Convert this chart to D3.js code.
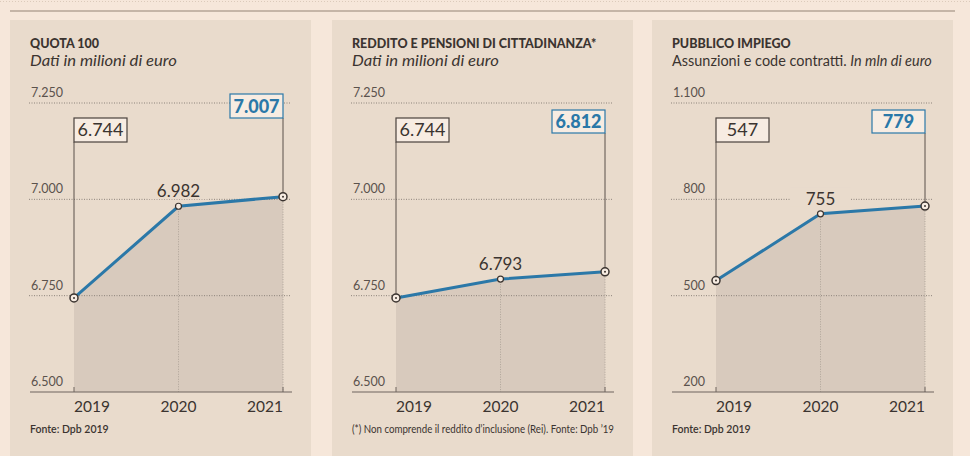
<!DOCTYPE html>
<html>
<head>
<meta charset="utf-8">
<script src="https://cdn.jsdelivr.net/npm/d3@7"></script>
<style>
  html, body { margin: 0; padding: 0; background: #f6e7da; }
  svg { display: block; font-family: Lato, "Open Sans", sans-serif; }
</style>
</head>
<body>
<svg id="chart"></svg>
<script>
// data
const years = ["2019", "2020", "2021"];
const quotaValues = [6744, 6982, 7007];
const redditoValues = [6744, 6793, 6812];
const impiegoValues = [547, 755, 779];
const euroTicks = [6500, 6750, 7000, 7250];
const impiegoTicks = [200, 500, 800, 1100];

const W = 970, H = 456;
const PAGE_BG = "#f6e7da", PANEL_BG = "#e9dbcc", AREA = "#d8cabd";
const BLUE = "#2b78a8", DARK = "#3b3430", GRID = "#8d837b";

const it = d3.formatLocale({ decimal: ",", thousands: ".", grouping: [3], currency: ["", "€"] });
const fmt = it.format(",");

const svg = d3.select("#chart").attr("width", W).attr("height", H);

svg.append("rect").attr("width", W).attr("height", H).attr("fill", PAGE_BG);
svg.append("line")
  .attr("x1", 0).attr("x2", W).attr("y1", 1.5).attr("y2", 1.5)
  .attr("stroke", "#dccbbb").attr("stroke-dasharray", "1 2");
svg.append("line")
  .attr("x1", 10).attr("x2", 955).attr("y1", 11).attr("y2", 11)
  .attr("stroke", "#b4a596").attr("stroke-width", 1.5);

// sub: [text, italic]; subW = width the subtitle should take
const panels = [
  { x0: 10, title: "QUOTA 100", sub: [["Dati in milioni di euro", true]], subW: 147,
    values: quotaValues, ticks: euroTicks, note: "Fonte: Dpb 2019", noteCond: false, blueTop: 94, blueH: 24 },
  { x0: 332, title: "REDDITO E PENSIONI DI CITTADINANZA*", sub: [["Dati in milioni di euro", true]], subW: 147,
    values: redditoValues, ticks: euroTicks,
    note: "(*) Non comprende il reddito d\u2019inclusione (Rei). Fonte: Dpb \u201919", noteCond: true, blueTop: 110, blueH: 23 },
  { x0: 652, title: "PUBBLICO IMPIEGO",
    sub: [["Assunzioni e code contratti. ", false], ["In mln di euro", true]], subW: 260,
    values: impiegoValues, ticks: impiegoTicks, note: "Fonte: Dpb 2019", noteCond: false, blueTop: 110, blueH: 23 },
];

panels.forEach(p => drawPanel(p));

function drawPanel(p) {
  const g = svg.append("g").attr("transform", `translate(${p.x0},0)`);
  const pw = 301;

  g.append("rect").attr("x", 0).attr("y", 20).attr("width", pw).attr("height", H - 20)
    .attr("fill", PANEL_BG);

  // titles
  g.append("text").attr("x", 20).attr("y", 48)
    .attr("font-size", 12.5).attr("font-weight", 900).attr("fill", DARK)
    .text(p.title);

  // subtitle, squeezed horizontally to the width seen in the original
  const subG = g.append("g");
  const sub = subG.append("text").attr("font-size", 16).attr("fill", DARK);
  p.sub.forEach(([t, ital]) => {
    sub.append("tspan").attr("font-style", ital ? "italic" : "normal").text(t);
  });
  const natural = sub.node().getComputedTextLength();
  subG.attr("transform", `translate(20,66) scale(${p.subW / natural},1)`);

  const x = d3.scalePoint().domain(years).range([64, 273]);
  const y = d3.scaleLinear().domain(d3.extent(p.ticks)).range([392, 103]);
  const pts = years.map((yr, i) => ({ yr, v: p.values[i], px: x(yr), py: y(p.values[i]) }));
  const base = y(p.ticks[0]);

  // area under line
  const area = d3.area().x(d => d.px).y0(base).y1(d => d.py);
  g.append("path").datum(pts).attr("d", area).attr("fill", AREA);

  // gridlines + tick labels
  p.ticks.forEach((t, i) => {
    if (i > 0) {
      g.append("line")
        .attr("x1", 19).attr("x2", 281).attr("y1", y(t)).attr("y2", y(t))
        .attr("stroke", GRID).attr("stroke-width", 1).attr("stroke-dasharray", "1 1.5");
    }
    g.append("text").attr("x", 53).attr("y", y(t) - 6)
      .attr("text-anchor", "end").attr("font-size", 12.5).attr("fill", "#5b524c")
      .text(fmt(t));
  });

  // vertical dotted guides
  pts.slice(1).forEach(d => {
    g.append("line")
      .attr("x1", d.px).attr("x2", d.px).attr("y1", d.py).attr("y2", base)
      .attr("stroke", "#a59a91").attr("stroke-width", 0.8).attr("stroke-dasharray", "1 1.5");
  });

  // x axis
  g.append("line").attr("x1", 20).attr("x2", 282).attr("y1", base).attr("y2", base)
    .attr("stroke", "#6e655f").attr("stroke-width", 1.2);
  [pts[0], pts[2]].forEach(d => {
    g.append("line").attr("x1", d.px).attr("x2", d.px).attr("y1", base - 5).attr("y2", base)
      .attr("stroke", "#6e655f").attr("stroke-width", 1);
  });
  pts.forEach((d, i) => {
    g.append("text").attr("x", d.px).attr("y", 412)
      .attr("text-anchor", i === 0 ? "start" : i === 1 ? "middle" : "end")
      .attr("font-size", 15.5).attr("fill", DARK).text(d.yr);
  });

  // note
  const note = g.append("text").attr("x", 20).attr("y", 433)
    .attr("font-size", 10.5).attr("font-weight", 600).attr("fill", DARK).text(p.note);
  if (p.noteCond) note.attr("font-weight", 400).attr("textLength", 262).attr("lengthAdjust", "spacingAndGlyphs");

  // middle label with knockout background
  const mid = pts[1];
  g.append("rect").attr("x", mid.px - 30).attr("y", mid.py - 26).attr("width", 60).attr("height", 19)
    .attr("fill", PANEL_BG);

  // line
  g.append("path").datum(pts)
    .attr("d", d3.line().x(d => d.px).y(d => d.py))
    .attr("fill", "none").attr("stroke", BLUE).attr("stroke-width", 3);

  g.append("text").attr("x", mid.px).attr("y", mid.py - 9)
    .attr("text-anchor", "middle").attr("font-size", 17).attr("fill", DARK).text(fmt(mid.v));

  // callouts
  const bw = 53;
  const first = pts[0], last = pts[2];
  g.append("line").attr("x1", first.px).attr("x2", first.px).attr("y1", 142).attr("y2", first.py)
    .attr("stroke", "#5a514b").attr("stroke-width", 1);
  g.append("line").attr("x1", last.px).attr("x2", last.px).attr("y1", p.blueTop + p.blueH).attr("y2", last.py)
    .attr("stroke", "#5a514b").attr("stroke-width", 1);

  g.append("rect").attr("x", first.px).attr("y", 118).attr("width", bw).attr("height", 24)
    .attr("fill", "#f7ece2").attr("stroke", "#4a423d").attr("stroke-width", 1.2);
  g.append("text").attr("x", first.px + bw / 2).attr("y", 136)
    .attr("text-anchor", "middle").attr("font-size", 18).attr("fill", DARK).text(fmt(first.v));

  g.append("rect").attr("x", last.px - bw).attr("y", p.blueTop).attr("width", bw).attr("height", p.blueH)
    .attr("fill", "#f7ece2").attr("stroke", BLUE).attr("stroke-width", 1.2);
  g.append("text").attr("x", last.px - bw / 2).attr("y", p.blueTop + p.blueH - 5)
    .attr("text-anchor", "middle").attr("font-size", 18).attr("font-weight", 900)
    .attr("fill", BLUE).text(fmt(last.v));

  // point markers
  pts.forEach((d, i) => {
    const end = i !== 1;
    g.append("circle").attr("cx", d.px).attr("cy", d.py).attr("r", end ? 4 : 3)
      .attr("fill", "#f7ece2").attr("stroke", DARK).attr("stroke-width", end ? 1.5 : 1.2);
    if (end) {
      g.append("circle").attr("cx", d.px).attr("cy", d.py).attr("r", 1).attr("fill", DARK);
    }
  });
}
</script>
</body>
</html>
